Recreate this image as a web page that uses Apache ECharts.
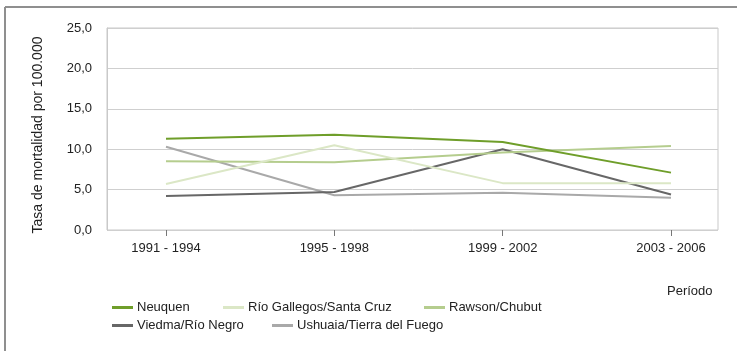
<!DOCTYPE html>
<html>
<head>
<meta charset="utf-8">
<script src="https://cdn.jsdelivr.net/npm/echarts@6/dist/echarts.min.js"></script>
<style>
html,body{margin:0;padding:0;background:#fff;}
#chart{width:737px;height:351px;}
</style>
</head>
<body>
<div id="chart"></div>
<script>
var categories = ["1991 - 1994", "1995 - 1998", "1999 - 2002", "2003 - 2006"];
var seriesNames = ["Neuquen", "Río Gallegos/Santa Cruz", "Rawson/Chubut", "Viedma/Río Negro", "Ushuaia/Tierra del Fuego"];
var neuquen = [11.3, 11.8, 10.9, 7.1];
var rioGallegos = [5.7, 10.5, 5.8, 5.8];
var rawson = [8.5, 8.4, 9.6, 10.4];
var viedma = [4.2, 4.7, 10.0, 4.4];
var ushuaia = [10.3, 4.3, 4.6, 4.0];
var yTicks = [0, 5, 10, 15, 20, 25];
var xTitle = "Período";
var yTitle = "Tasa de mortalidad por 100.000";

var values = [neuquen, rioGallegos, rawson, viedma, ushuaia];
var colors = ["#6f9e2a", "#dbe7c6", "#b5cd8e", "#676767", "#a9a9a9"];
var FONT = "'Liberation Sans', Arial, sans-serif";

var chart = echarts.init(document.getElementById('chart'), null, {renderer: 'canvas'});

var series = seriesNames.map(function (name, k) {
  return {
    name: name,
    type: 'line',
    xAxisIndex: 0,
    yAxisIndex: 0,
    data: values[k],
    symbol: 'none',
    lineStyle: {color: colors[k], width: 2},
    itemStyle: {color: colors[k]},
    z: 10 - k
  };
});

var legendPos = [
  {left: 112, top: 301},
  {left: 223, top: 301},
  {left: 424, top: 301},
  {left: 112, top: 319},
  {left: 272, top: 319}
];
var legends = seriesNames.map(function (name, k) {
  return {
    left: legendPos[k].left,
    top: legendPos[k].top,
    data: [name],
    icon: 'rect',
    itemWidth: 21,
    itemHeight: 3,
    itemGap: 0,
    padding: 0,
    selectedMode: false,
    textStyle: {fontFamily: FONT, fontSize: 13, color: '#222', padding: [0, 0, 0, -1]}
  };
});

var option = {
  animation: false,
  backgroundColor: '#fff',
  legend: legends,
  grid: [
    {left: 166, right: 66, top: 28, bottom: 121, show: false},
    {left: 107, right: 19, top: 28, bottom: 121, show: true, borderColor: '#c9c9c9', borderWidth: 1, z: 0}
  ],
  xAxis: [{
    type: 'category',
    gridIndex: 0,
    data: categories,
    boundaryGap: false,
    axisLine: {show: false},
    splitLine: {show: false},
    axisTick: {show: true, inside: false, length: 6, lineStyle: {color: '#777', width: 1}},
    axisLabel: {
      margin: 12,
      interval: 0,
      fontFamily: FONT, fontSize: 13, color: '#222'
    }
  }, {
    type: 'value',
    gridIndex: 1,
    min: 0,
    max: 1,
    show: false
  }],
  yAxis: [{
    type: 'value',
    gridIndex: 0,
    min: 0,
    max: 25,
    interval: 5,
    show: false
  }, {
    type: 'value',
    gridIndex: 1,
    min: 0,
    max: 25,
    interval: 5,
    name: yTitle,
    nameLocation: 'middle',
    nameGap: 62,
    nameTextStyle: {fontFamily: FONT, fontSize: 14, color: '#222', padding: [0, 12, 0, 0]},
    axisLine: {show: true, onZero: false, lineStyle: {color: '#c9c9c9'}},
    axisTick: {show: false},
    splitLine: {lineStyle: {color: '#cfcfcf'}},
    axisLabel: {
      margin: 15,
      fontFamily: FONT, fontSize: 13, color: '#222',
      formatter: function (v) { return yTicks.indexOf(v) >= 0 ? v.toFixed(1).replace('.', ',') : ''; }
    }
  }],
  graphic: [
    {type: 'line', shape: {x1: 5, y1: 7, x2: 737, y2: 7}, style: {stroke: '#8f8f8f', lineWidth: 2}, silent: true},
    {type: 'line', shape: {x1: 5, y1: 7, x2: 5, y2: 351}, style: {stroke: '#8f8f8f', lineWidth: 2}, silent: true},
    {type: 'text', left: 667, top: 285, style: {text: xTitle, font: '13px ' + FONT, fill: '#222'}, silent: true}
  ],
  series: series
};
chart.setOption(option);
</script>
</body>
</html>
